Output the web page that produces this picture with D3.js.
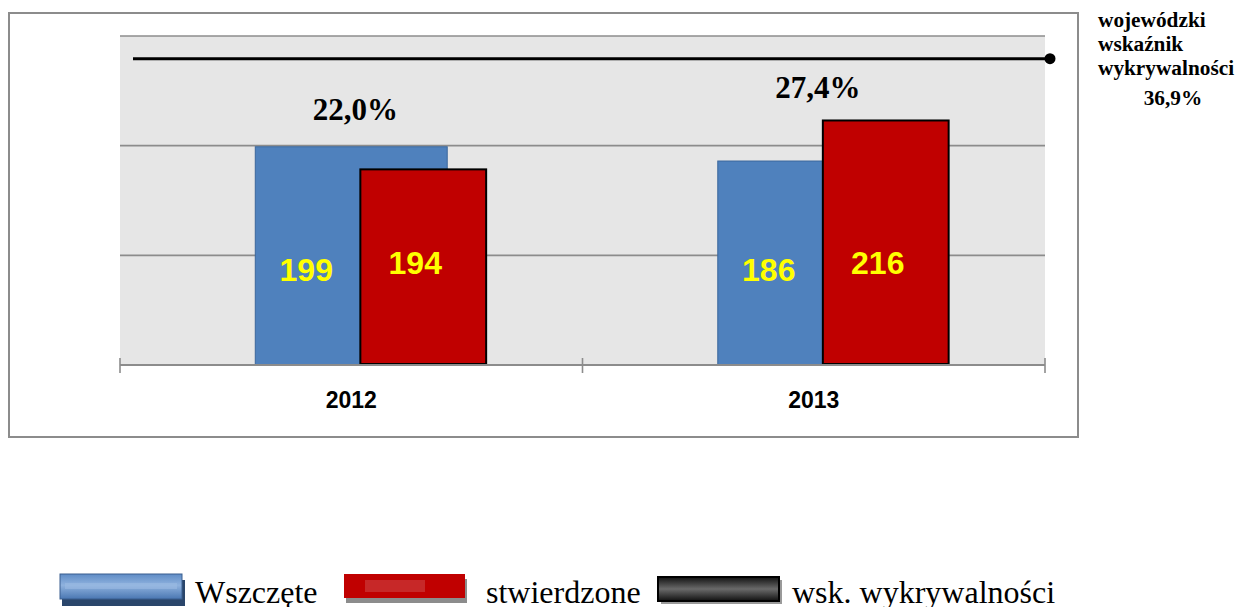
<!DOCTYPE html>
<html>
<head>
<meta charset="utf-8">
<script src="https://cdn.jsdelivr.net/npm/d3@7/dist/d3.min.js"></script>
<style>
  body { margin: 0; background: #fff; }
  svg { display: block; }
</style>
</head>
<body>
<svg id="chart" width="1237" height="607"></svg>
<script>
// dane
var years = ["2012", "2013"];
var wszczete = [199, 186];
var stwierdzone = [194, 216];
var wskaznik = [22.0, 27.4];
var wojWskaznik = 36.9;
var yTicks = [0, 100, 200, 300];
var legendNames = ["Wszczęte", "stwierdzone", "wsk. wykrywalności"];
var sideLabel = ["wojewódzki", "wskaźnik", "wykrywalności"];

var fmtPct = function(v) { return v.toFixed(1).replace(".", ",") + "%"; };

var svg = d3.select("#chart");
var plot = {left: 120, right: 1045, top: 36, bottom: 365};

var x = d3.scaleBand().domain(years).range([plot.left, plot.right]).padding(0);
var y = d3.scaleLinear().domain([0, 300]).range([plot.bottom, plot.top]);
// druga oś (słupki czerwone) - jak w oryginale, nie od zera
var y2 = d3.scaleLinear().domain([106, 254]).range([plot.bottom, plot.top]);
var yPct = d3.scaleLinear().domain([0, 40]).range([210, 46]);

var defs = svg.append("defs");
var gBlue = defs.append("linearGradient").attr("id", "gBlue").attr("x1", 0).attr("y1", 0).attr("x2", 0).attr("y2", 1);
gBlue.append("stop").attr("offset", "0%").attr("stop-color", "#5f8cc6");
gBlue.append("stop").attr("offset", "45%").attr("stop-color", "#8fb2de");
gBlue.append("stop").attr("offset", "100%").attr("stop-color", "#4a77b2");
var gBlack = defs.append("linearGradient").attr("id", "gBlack").attr("x1", 0).attr("y1", 0).attr("x2", 0).attr("y2", 1);
gBlack.append("stop").attr("offset", "0%").attr("stop-color", "#111");
gBlack.append("stop").attr("offset", "50%").attr("stop-color", "#6a6a6a");
gBlack.append("stop").attr("offset", "100%").attr("stop-color", "#111");

// ramka wykresu
svg.append("rect").attr("x", 9).attr("y", 13).attr("width", 1069).attr("height", 424)
    .attr("fill", "#fff").attr("stroke", "#8c8c8c").attr("stroke-width", 2);

// tło obszaru kreślenia
svg.append("rect").attr("x", plot.left).attr("y", plot.top)
    .attr("width", plot.right - plot.left).attr("height", plot.bottom - plot.top)
    .attr("fill", "#e6e6e6");

// linie siatki
svg.append("g").selectAll("line").data(yTicks.slice(1)).enter().append("line")
    .attr("x1", plot.left).attr("x2", plot.right)
    .attr("y1", function(d) { return y(d); }).attr("y2", function(d) { return y(d); })
    .attr("stroke", "#8c8c8c").attr("stroke-width", 1.6);

var bw = x.bandwidth();
var blueW = bw * 0.415, redW = bw * 0.272, redOff = 72;

// słupki - wszczęte
svg.append("g").selectAll("rect").data(wszczete).enter().append("rect")
    .attr("x", function(d, i) { return x(years[i]) + bw / 2 - blueW / 2; })
    .attr("y", function(d) { return y(d); })
    .attr("width", blueW)
    .attr("height", function(d) { return y(0) - y(d); })
    .attr("fill", "#4f81bd").attr("stroke", "#3b679c").attr("stroke-width", 1);

// słupki - stwierdzone
svg.append("g").selectAll("rect").data(stwierdzone).enter().append("rect")
    .attr("x", function(d, i) { return x(years[i]) + bw / 2 + redOff - redW / 2; })
    .attr("y", function(d) { return y2(d); })
    .attr("width", redW)
    .attr("height", function(d) { return y2(106) - y2(d) - 1; })
    .attr("fill", "#c00000").attr("stroke", "#000").attr("stroke-width", 2);

// oś X
svg.append("line").attr("x1", plot.left).attr("x2", plot.right)
    .attr("y1", plot.bottom).attr("y2", plot.bottom)
    .attr("stroke", "#8c8c8c").attr("stroke-width", 2);
var edges = years.map(function(d) { return x(d); }).concat([plot.right]);
svg.append("g").selectAll("line").data(edges).enter().append("line")
    .attr("x1", function(d) { return d; }).attr("x2", function(d) { return d; })
    .attr("y1", plot.bottom - 7).attr("y2", plot.bottom + 8)
    .attr("stroke", "#8c8c8c").attr("stroke-width", 1.6);

var xAxis = svg.append("g").attr("transform", "translate(0," + plot.bottom + ")")
    .call(d3.axisBottom(x).tickSize(0).tickPadding(43));
xAxis.select(".domain").remove();
xAxis.selectAll("text").attr("font-family", "'Liberation Sans', Arial, sans-serif")
    .attr("font-weight", "bold").attr("font-size", 23).attr("fill", "#000").attr("dy", 0);

// etykiety wartości
var numFont = "'Liberation Sans', Arial, sans-serif";
svg.append("g").selectAll("text").data(wszczete).enter().append("text")
    .attr("x", function(d, i) { return x(years[i]) + bw / 2 - 45; })
    .attr("y", 281)
    .attr("text-anchor", "middle").attr("font-family", numFont).attr("font-weight", "bold")
    .attr("font-size", 32).attr("fill", "#ffff00")
    .text(function(d) { return d; });
svg.append("g").selectAll("text").data(stwierdzone).enter().append("text")
    .attr("x", function(d, i) { return x(years[i]) + bw / 2 + redOff - 8; })
    .attr("y", 274)
    .attr("text-anchor", "middle").attr("font-family", numFont).attr("font-weight", "bold")
    .attr("font-size", 32).attr("fill", "#ffff00")
    .text(function(d) { return d; });

// linia wskaźnika wojewódzkiego
svg.append("line").attr("x1", 133).attr("x2", 1050)
    .attr("y1", yPct(wojWskaznik)).attr("y2", yPct(wojWskaznik))
    .attr("stroke", "#000").attr("stroke-width", 3);
svg.append("circle").attr("cx", 1050).attr("cy", yPct(wojWskaznik)).attr("r", 5.5).attr("fill", "#000");

// etykiety wskaźnika wykrywalności
var serif = "'Liberation Serif', 'Times New Roman', serif";
svg.append("g").selectAll("text").data(wskaznik).enter().append("text")
    .attr("x", function(d, i) { return x(years[i]) + bw / 2 + 4; })
    .attr("y", function(d) { return yPct(d); })
    .attr("text-anchor", "middle").attr("font-family", serif).attr("font-weight", "bold")
    .attr("font-size", 31).attr("fill", "#000")
    .text(fmtPct);

// opis po prawej
var side = svg.append("g").attr("font-family", serif).attr("font-weight", "bold").attr("font-size", 21.3);
side.selectAll("text").data(sideLabel).enter().append("text")
    .attr("x", 1098).attr("y", function(d, i) { return 27 + i * 24; })
    .text(function(d) { return d; });
side.append("text").attr("x", 1173).attr("y", 105).attr("text-anchor", "middle").text(fmtPct(wojWskaznik));

// legenda
var leg = svg.append("g");
leg.append("rect").attr("x", 62).attr("y", 580).attr("width", 123).attr("height", 26).attr("fill", "#2a466b");
leg.append("rect").attr("x", 60).attr("y", 574).attr("width", 122).attr("height", 25)
    .attr("fill", "url(#gBlue)").attr("stroke", "#3a5f8f").attr("stroke-width", 1);
leg.append("rect").attr("x", 65).attr("y", 583).attr("width", 112).attr("height", 6).attr("fill", "#9bbbe3").attr("opacity", 0.6);

leg.append("rect").attr("x", 346).attr("y", 579).attr("width", 121).attr("height", 24).attr("fill", "#8c8c8c");
leg.append("rect").attr("x", 344).attr("y", 574).attr("width", 121).attr("height", 24).attr("fill", "#c00000");
leg.append("rect").attr("x", 365).attr("y", 580).attr("width", 60).attr("height", 12).attr("fill", "#c83232").attr("opacity", 0.8);

leg.append("rect").attr("x", 661).attr("y", 580).attr("width", 121).attr("height", 24).attr("fill", "#9a9a9a");
leg.append("rect").attr("x", 658).attr("y", 577).attr("width", 121).attr("height", 24)
    .attr("fill", "url(#gBlack)").attr("stroke", "#000").attr("stroke-width", 2);

var legX = [195, 486, 792];
leg.selectAll("text").data(legendNames).enter().append("text")
    .attr("x", function(d, i) { return legX[i]; }).attr("y", 603)
    .attr("font-family", serif).attr("font-size", 32).attr("fill", "#000")
    .text(function(d) { return d; });
</script>
</body>
</html>
